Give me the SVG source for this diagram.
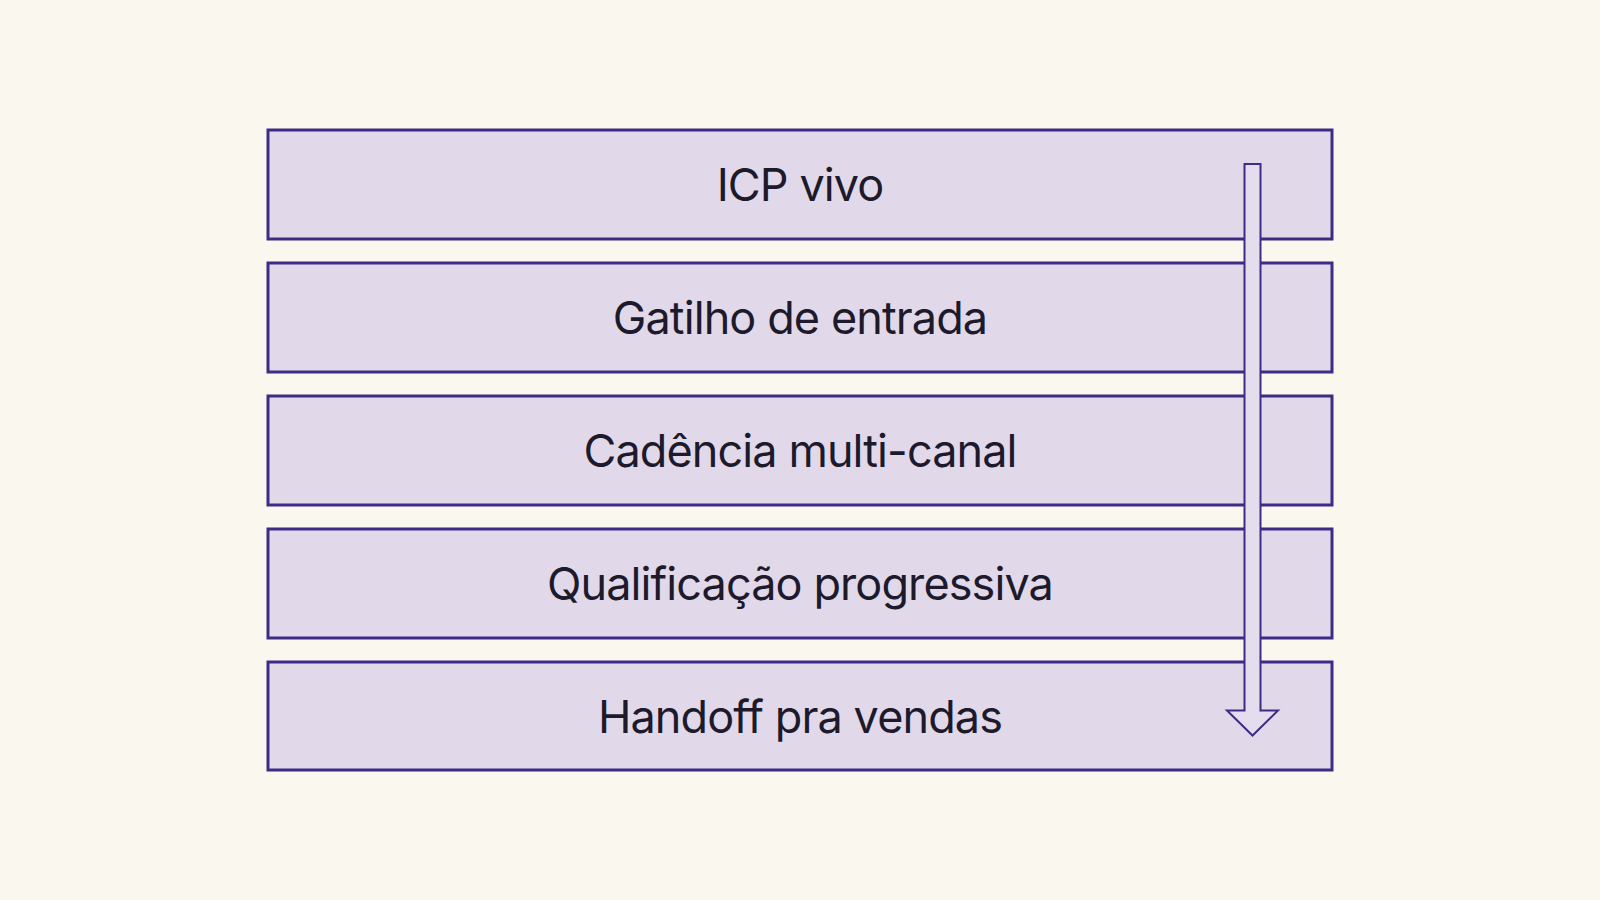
<svg xmlns="http://www.w3.org/2000/svg" width="1600" height="900" viewBox="0 0 1600 900">
<style>
.box{fill:#e1d9ea;stroke:#3f2b86;stroke-width:3}
.lbl{font-family:Inter,"Liberation Sans",sans-serif;font-size:45px;letter-spacing:-0.9px;fill:#1d1a2c;text-anchor:middle}
.arrow{fill:#e4ddee;stroke:#3f2b86;stroke-width:2;stroke-linejoin:miter}
</style>
<rect width="1600" height="900" fill="#faf7ef"/>
<g id="n1"><rect class="box" x="268" y="130" width="1064" height="109"/><text class="lbl" x="800" y="201">ICP vivo</text></g>
<g id="n2"><rect class="box" x="268" y="263" width="1064" height="109"/><text class="lbl" x="800" y="334">Gatilho de entrada</text></g>
<g id="n3"><rect class="box" x="268" y="396" width="1064" height="109"/><text class="lbl" x="800" y="467">Cadência multi-canal</text></g>
<g id="n4"><rect class="box" x="268" y="529" width="1064" height="109"/><text class="lbl" x="800" y="600">Qualificação progressiva</text></g>
<g id="n5"><rect class="box" x="268" y="662" width="1064" height="108"/><text class="lbl" x="800" y="733">Handoff pra vendas</text></g>
<g id="connectors">
<path class="arrow" d="M1244.5 164 H1260.5 V710.5 H1278 L1252.5 735.5 L1227 710.5 H1244.5 Z"/>
</g>
</svg>
